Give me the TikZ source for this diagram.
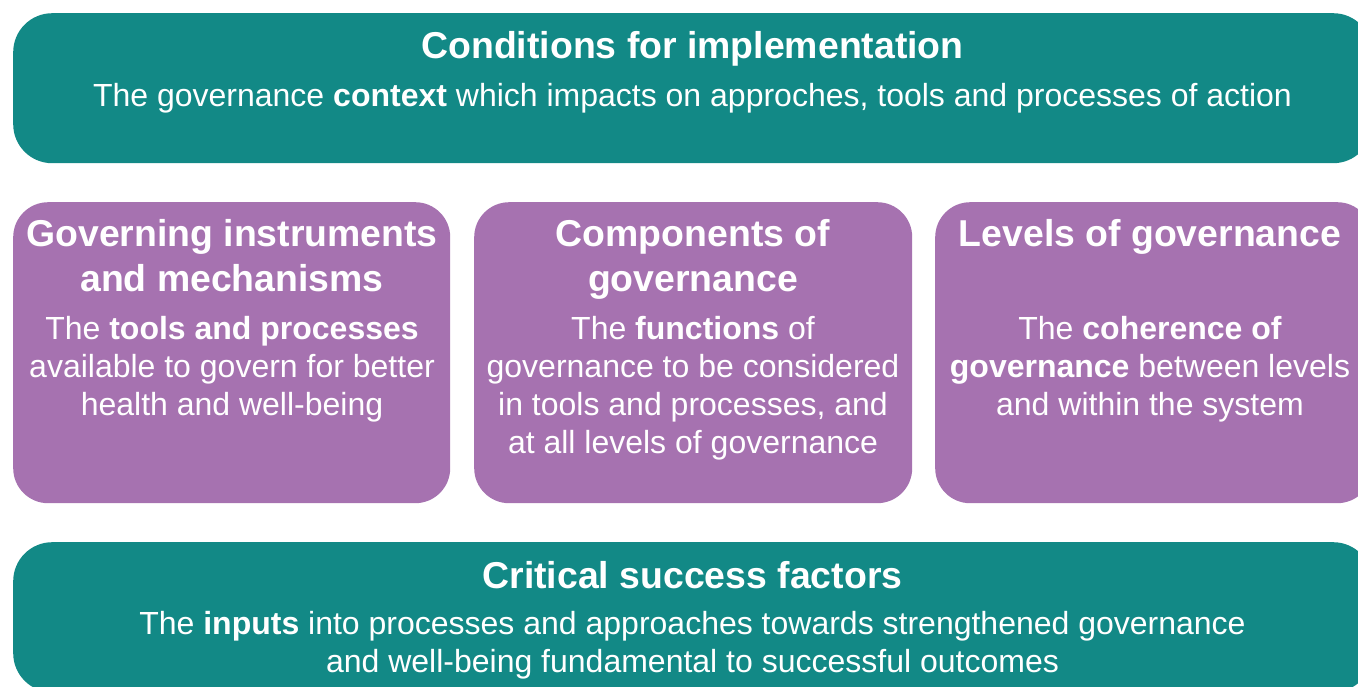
\documentclass[tikz,border=0pt]{standalone}
\usepackage{fontspec}
\setmainfont{Liberation Sans}
\definecolor{tealbg}{RGB}{18,137,134}
\definecolor{purplebg}{RGB}{166,114,176}
\begin{document}
\begin{tikzpicture}[x=1pt,y=-1pt,
  tealbox/.style={fill=tealbg,draw=none,rounded corners=39pt,anchor=north west,inner sep=0pt},
  purplebox/.style={fill=purplebg,draw=none,rounded corners=35pt,anchor=north west,inner sep=0pt},
  ttl/.style={anchor=base,text=white,inner sep=0pt,font=\fontsize{37.4}{44}\selectfont\bfseries},
  bdy/.style={anchor=base,text=white,inner sep=0pt,font=\fontsize{32}{38}\selectfont}]
\useasboundingbox (0,0) rectangle (1358,686);
\clip (0,0) rectangle (1358,686);
% boxes
\node[tealbox,minimum width=1359pt,minimum height=150pt] (topbox) at (13,13) {};
\node[purplebox,minimum width=437pt,minimum height=301pt] (boxa) at (13,202) {};
\node[purplebox,minimum width=438pt,minimum height=301pt] (boxb) at (474,202) {};
\node[purplebox,minimum width=437pt,minimum height=301pt] (boxc) at (935,202) {};
\node[tealbox,minimum width=1359pt,minimum height=150pt] (botbox) at (13,542) {};
% top text
\node[ttl] (toptitle) at (692.5,58) {Conditions for implementation};
\node[bdy] (topbody) at (692.5,106) {The governance \textbf{context} which impacts on approches, tools and processes of action};
% box a
\node[ttl] (atitle1) at (232,246) {Governing instruments};
\node[ttl] (atitle2) at (232,291) {and mechanisms};
\node[bdy] (abody1) at (232,339) {The \textbf{tools and processes}};
\node[bdy] (abody2) at (232,377) {available to govern for better};
\node[bdy] (abody3) at (232,415) {health and well-being};
% box b
\node[ttl] (btitle1) at (693,246) {Components of};
\node[ttl] (btitle2) at (693,291) {governance};
\node[bdy] (bbody1) at (693,339) {The \textbf{functions} of};
\node[bdy] (bbody2) at (693,377) {governance to be considered};
\node[bdy] (bbody3) at (693,415) {in tools and processes, and};
\node[bdy] (bbody4) at (693,453) {at all levels of governance};
% box c
\node[ttl] (ctitle1) at (1150,246) {Levels of governance};
\node[bdy] (cbody1) at (1150,339) {The \textbf{coherence of}};
\node[bdy] (cbody2) at (1150,377) {\textbf{governance} between levels};
\node[bdy] (cbody3) at (1150,415) {and within the system};
% bottom text
\node[ttl] (bottitle) at (692.5,588) {Critical success factors};
\node[bdy] (botbody1) at (692.5,634) {The \textbf{inputs} into processes and approaches towards strengthened governance};
\node[bdy] (botbody2) at (692.5,672) {and well-being fundamental to successful outcomes};
\end{tikzpicture}
\end{document}
